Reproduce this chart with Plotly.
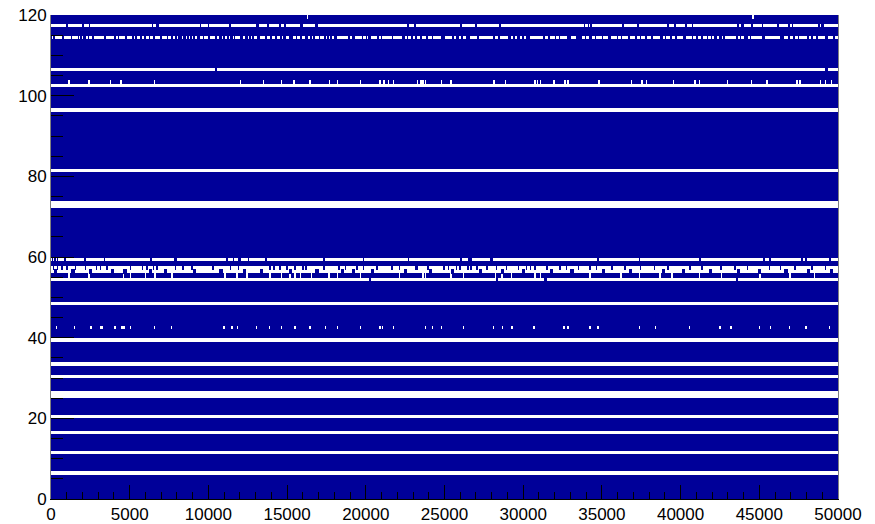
import numpy as np
import plotly.graph_objects as go

N_EVENTS = 50000
N_CHANNELS = 120
EVENT_BIN = 50

# channels with no hits at all
dead_channels = [6, 11, 16, 20, 25, 26, 30, 33, 39, 48, 72, 73, 81, 96, 102]

# mostly-empty channels: event numbers where the channel shows hits again
ch117_hits = [1000, 2020, 2460, 6460, 6780, 9510, 9990, 11380, 13130, 13790, 14560, 14870,
              15920, 16870, 22680, 23130, 26050, 27000, 28520, 33890, 34140, 34330, 36360,
              37280, 39190, 39630, 40330, 40740, 43660, 43920, 44550, 45190, 46170, 46870,
              47090, 48770, 49030]
ch106_hits = [10490, 49280]
ch59_hits = [100, 250, 400, 910, 2140, 3410, 6350, 7840, 7940, 11170, 11590, 11980, 12550, 13670,
             17360, 19850, 22700, 26050, 26570, 26670, 27970, 34750, 37410, 41220, 45290,
             45670, 47700, 47950, 49480]
ch57_hits = [170, 380, 700, 1010, 1540, 2180, 2920, 3130, 3550, 5030, 5780, 6090, 6520, 6730,
             7890, 8420, 8950, 10320, 11380, 11910, 13920, 14130, 14560, 14980, 15510, 16000,
             16210, 17350, 18300, 18680, 19470, 19850, 20690, 21650, 22170, 23130, 23270,
             23970, 24930, 25240, 25770, 25980, 26510, 26720, 27040, 27680, 28310, 28950,
             29690, 30220, 30430, 30740, 31480, 32330, 32750, 33500, 34240, 34660, 35630,
             36460, 37470, 38360, 39190, 40580, 41350, 42550, 43440, 44270, 45660, 46360,
             47250, 48330, 49220]
ch56_hits = [300, 1400, 2500, 3900, 4700, 6300, 7300, 9100, 10800, 12300, 13400, 15200, 16900,
             18500, 19200, 20400, 22500, 24100, 25500, 27300, 28700, 30000, 31800, 33100,
             35100, 36800, 38900, 40200, 41900, 43700, 45000, 46700, 48100, 49600]
ch54_hits = [20270, 28330, 31430, 43580]

# mostly-live channels: event numbers of short dropouts
ch119_gaps = [16280, 28980, 44600]
ch103_gaps = [1160, 2390, 3770, 4440, 5030, 6580, 11870, 12060, 13500, 14660, 15130, 15450,
              15830, 16460, 17670, 18200, 19660, 20900, 21160, 21430, 21750, 23270, 23490,
              23660, 23780, 24820, 25390, 28140, 28880, 30740, 30890, 31100, 31950, 32650,
              32860, 34810, 36880, 37560, 37830, 39530, 40900, 41220, 42970, 44500, 45490,
              46830, 47400, 47610, 48480, 48880, 49200, 49580]
ch55_gaps = [1140, 2380, 4610, 5030, 5990, 6620, 7680, 11070, 11810, 12440, 13920, 14660, 15190,
             15510, 15830, 16570, 17630, 18200, 19640, 22130, 23660, 23820, 25390, 26190,
             28270, 28630, 29260, 30740, 31100, 34240, 36200, 37410, 38680, 39440, 41220,
             42610, 45030, 46930, 48520]
ch42_gaps = [340, 1480, 2560, 3130, 3240, 4040, 4510, 4650, 5080, 6580, 7680, 11000, 11490,
             11850, 13080, 13880, 14660, 15510, 15830, 16460, 17460, 18200, 19640, 20900,
             21070, 21750, 23380, 23800, 24230, 24820, 26190, 28100, 28670, 29310, 30700,
             32610, 32860, 34240, 34760, 35570, 37410, 38430, 40580, 42490, 43190, 45030,
             45730, 46930, 47950, 49470]

# channel 114: intermittent, dropout intervals [start, end] in events
ch114_dropouts = [
    [60, 170], [230, 700], [800, 1230], [1370, 1480], [1560, 1690], [1780, 1860], [1970, 2070],
    [2200, 2330], [2390, 2600], [2750, 3340], [3510, 3980], [4080, 4230], [4290, 4720],
    [4820, 5140], [5250, 5350], [5460, 5670], [5780, 5920], [6030, 6220], [6300, 6470],
    [6580, 6900], [7050, 7360], [7470, 7620], [7740, 7830], [8000, 8100], [8310, 8420],
    [8530, 8630], [8740, 8840], [8950, 9060], [9160, 9270], [9440, 9650], [9730, 10010],
    [10110, 10430], [10540, 10710], [10850, 10960], [11070, 11170], [11280, 11380],
    [11550, 11600], [11700, 12020], [12190, 12340], [12480, 12550], [12690, 12800],
    [12910, 13080], [13240, 13600], [13710, 13920], [14030, 14240], [14350, 14560],
    [14660, 14770], [14940, 15150],
    [15360, 15550], [15660, 15830], [15930, 16140], [16290, 16460], [16570, 16670],
    [16740, 16990], [17100, 17370], [17430, 17560], [17670, 17730], [17840, 17940],
    [18150, 18830], [19000, 19170], [19280, 19740], [19850, 20020], [20100, 20160],
    [20330, 20690], [20840, 20950], [21050, 21650], [21750, 22280], [22490, 22600],
    [22700, 22850], [23020, 23130], [23230, 23440], [23610, 23870], [23970, 24180],
    [24290, 24820], [25030, 25450], [25600, 25770], [25880, 26030], [26190, 26360],
    [26620, 27040], [27190, 28100], [28200, 28420], [28520, 29050], [29220, 29330],
    [29470, 29580], [29790, 29960], [30070, 30220], [30380, 31270], [31380, 31590],
    [31700, 32010], [32120, 32290], [32370, 32800], [33030, 33350], [33750, 33920],
    [34020, 34190],
    [34340, 34550], [34660, 34830], [34910, 35000], [35080, 35400], [35610, 35930],
    [35990, 36180], [36310, 36670], [36820, 37090], [37200, 37410], [37520, 37730],
    [37830, 38150], [38260, 38680], [38850, 39000], [39100, 39360], [39440, 39630],
    [39740, 40160], [40370, 40690], [40790, 41010], [41110, 41320], [41430, 41640],
    [41750, 41960], [42020, 42170], [42320, 42450], [42590, 42700], [42870, 43550],
    [43650, 43760], [43860, 44070], [44240, 44390], [44500, 45130], [45340, 46300],
    [46550, 46830], [46930, 47140], [47250, 47460], [47570, 47740], [47820, 47990],
    [48160, 48310], [48410, 48620], [48730, 49150], [49360, 49680], [49790, 50000],
]

x_ticks = list(range(0, 50001, 5000))
y_ticks = list(range(0, 121, 20))

# ---------------------------------------------------------------- occupancy
ncol = N_EVENTS // EVENT_BIN
col_c = (np.arange(ncol) + 0.5) * EVENT_BIN
occ = np.ones((N_CHANNELS, ncol), dtype=bool)
for ch in dead_channels:
    occ[ch, :] = False


def mark(ch, centres, width, value):
    for c in centres:
        sel = np.abs(col_c - c) <= width / 2
        if not sel.any():
            sel[np.argmin(np.abs(col_c - c))] = True
        occ[ch, sel] = value


sparse = {117: (ch117_hits, 110), 106: (ch106_hits, 120), 59: (ch59_hits, 110),
          57: (ch57_hits, 90), 56: (ch56_hits, 150), 54: (ch54_hits, 110)}
for ch, (lst, w) in sparse.items():
    occ[ch, :] = False
    mark(ch, lst, w, True)

gappy = {119: (ch119_gaps, 70), 103: (ch103_gaps, 80), 55: (ch55_gaps, 90), 42: (ch42_gaps, 80)}
for ch, (lst, w) in gappy.items():
    mark(ch, lst, w, False)

for a, b in ch114_dropouts:
    occ[114, (col_c >= a) & (col_c <= b)] = False

# each channel's box spans slightly beyond its unit bin (ROOT-like box drawing)
LO, HI = 0.05, 0.85
rows, edges = [occ[0]], [0.0]
for n in range(N_CHANNELS):
    edges.append(n + LO)
    rows.append(occ[n])
    edges.append(n + HI)
    rows.append(occ[n] | occ[n + 1] if n + 1 < N_CHANNELS else occ[n])
edges.append(float(N_CHANNELS))

m_rows, m_edges = [rows[0]], [edges[0]]
for i in range(1, len(rows)):
    if np.array_equal(rows[i], m_rows[-1]):
        continue
    m_rows.append(rows[i])
    m_edges.append(edges[i])
m_edges.append(edges[-1])
z = np.array(m_rows).astype(np.uint8)

BLUE = "#000099"
fig = go.Figure(go.Heatmap(
    z=z, x0=EVENT_BIN / 2, dx=EVENT_BIN, y=m_edges,
    colorscale=[[0, "white"], [1, BLUE]], zmin=0, zmax=1,
    showscale=False, hoverinfo="skip",
))

font = dict(family="Liberation Sans, Arial, sans-serif", size=17, color="black")
fig.update_layout(
    template="none",
    width=875, height=524,
    margin=dict(l=51, r=37, t=15, b=25, autoexpand=False),
    paper_bgcolor="white", plot_bgcolor="white",
    font=font,
    xaxis=dict(range=[0, N_EVENTS], tickvals=x_ticks, ticktext=[str(v) for v in x_ticks],
               ticks="inside", ticklen=14, tickwidth=1, tickcolor="black",
               minor=dict(ticks="inside", ticklen=7, dtick=1000, tickcolor="black", tickwidth=1),
               showgrid=False, zeroline=False, showline=True, linecolor="black", linewidth=1,
               tickfont=font, automargin=False),
    yaxis=dict(range=[0, N_CHANNELS], tickvals=y_ticks, ticktext=[str(v) for v in y_ticks],
               ticks="inside", ticklen=23, tickwidth=1, tickcolor="black",
               minor=dict(ticks="inside", ticklen=12, dtick=5, tickcolor="black", tickwidth=1),
               showgrid=False, zeroline=False, showline=True, linecolor="#808080", linewidth=1,
               mirror=True, tickfont=font, automargin=False),
)

fig.write_html("out.html")
